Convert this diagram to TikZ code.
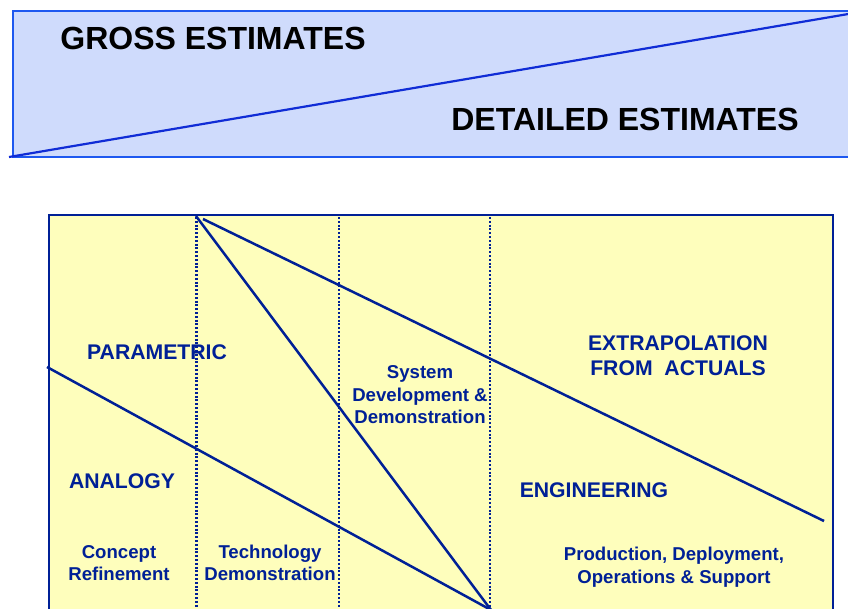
\documentclass[tikz,border=0pt]{standalone}
\usepackage{fontspec}
\setmainfont{Liberation Sans}

\definecolor{banner}{RGB}{207,219,252}
\definecolor{bannerline}{RGB}{30,88,240}
\definecolor{slope}{RGB}{16,44,214}
\definecolor{paper}{RGB}{254,254,188}
\definecolor{navy}{RGB}{0,32,150}

\tikzset{
	big/.style={font=\fontsize{32}{38}\selectfont\bfseries, text=black, inner sep=0},
	method/.style={font=\fontsize{21.2}{25}\selectfont\bfseries, text=navy, align=center, inner sep=0},
	phase/.style={font=\fontsize{18.6}{22.5}\selectfont\bfseries, text=navy, align=center, inner sep=0},
	divider/.style={navy, line width=2.3pt, dash pattern=on 2pt off 1.8pt},
}

\begin{document}
\begin{tikzpicture}[x=1pt, y=-1pt]
	\useasboundingbox (0,0) rectangle (848,608);
	\def\xL{49}   %left edge
	\def\xR{833}  %right edge
	\def\yT{215}  %top edge
	
	%Schaetzungen
	\fill[banner] (13,11) rectangle (870,157);
	\draw[bannerline, line width=2pt] (870,11) -- (13,11) -- (13,157) -- (870,157);
	\coordinate (g0) at (9,157);
	\coordinate (g1) at (860,12);
	\draw[slope, line width=2.2pt] (g0) -- (g1);
	\node[big] (gross) at (213,38) {GROSS ESTIMATES};
	\node[big] (detail) at (625,119) {DETAILED ESTIMATES};
	
	%Methoden
	\draw[navy, line width=2.6pt, fill=paper] (\xL,630) -- (\xL,\yT) -- (\xR,\yT) -- (\xR,630);
	\foreach \x in {196.5, 339, 490}
		\draw[divider] (\x,\yT+2) -- (\x,608);
	
	\coordinate (a0) at (47,367);
	\coordinate (a1) at (491,610);
	\coordinate (p0) at (196,216);
	\coordinate (e0) at (203,219);
	\coordinate (e1) at (824,521);
	\draw[navy, line width=2.5pt] (p0) -- (a1);
	\draw[navy, line width=2.5pt] (a0) -- (a1);
	\draw[navy, line width=2.5pt] (e0) -- (e1);
	
	\node[method] (param) at (157,352) {PARAMETRIC};
	\node[method] (analog) at (122,481) {ANALOGY};
	\node[method] (extra) at (678,356) {EXTRAPOLATION\\FROM\ \ ACTUALS};
	\node[method] (engin) at (594,490) {ENGINEERING};
	
	%Phasen
	\node[phase] (concept) at (119,563) {Concept\\Refinement};
	\node[phase] (techno) at (270,563) {Technology\\Demonstration};
	\node[phase] (sdd) at (420,395) {System\\Development \&\\Demonstration};
	\node[phase] (prod) at (674,567) {Production, Deployment,\\Operations \& Support};
\end{tikzpicture}
\end{document}
